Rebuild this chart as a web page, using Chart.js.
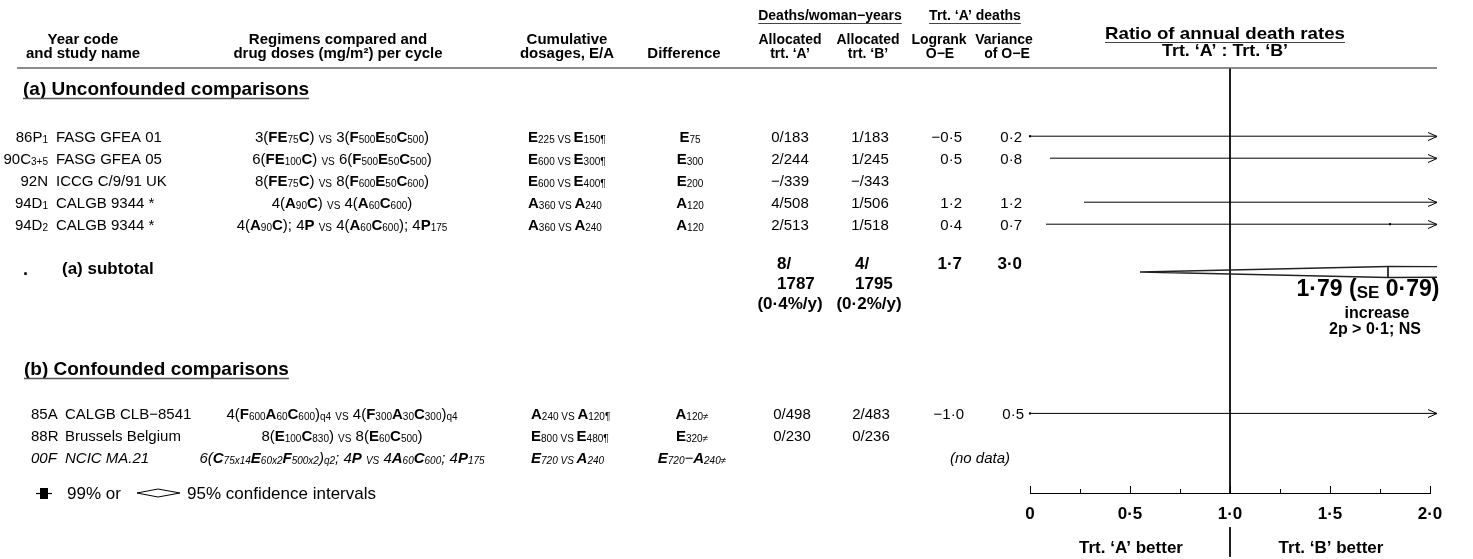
<!DOCTYPE html>
<html><head><meta charset="utf-8">
<script src="https://cdn.jsdelivr.net/npm/chart.js@4.4.1/dist/chart.umd.min.js"></script>
<style>html,body{margin:0;padding:0;background:#fff;overflow:hidden}#wrap{width:1473px;height:559px;position:relative}</style>
</head><body><div id="wrap"><canvas id="c" width="1473" height="559"></canvas></div>
<script>
// ---------------- DATA ----------------
// markup: `...` = bold, ^...^ = small/subscript
// (a) Unconfounded comparisons
const yearCodesA = ['86P^1^', '90C^3+5^', '92N', '94D^1^', '94D^2^'];
const studyNamesA = ['FASG GFEA 01', 'FASG GFEA 05', 'ICCG C/9/91 UK', 'CALGB 9344 *', 'CALGB 9344 *'];
const regimensA = [
  '3(`FE`^75^`C`) ^VS^ 3(`F`^500^`E`^50^`C`^500^)',
  '6(`FE`^100^`C`) ^VS^ 6(`F`^500^`E`^50^`C`^500^)',
  '8(`FE`^75^`C`) ^VS^ 8(`F`^600^`E`^50^`C`^600^)',
  '4(`A`^90^`C`) ^VS^ 4(`A`^60^`C`^600^)',
  '4(`A`^90^`C`); 4`P` ^VS^ 4(`A`^60^`C`^600^); 4`P`^175^'
];
const cumulativeA = ['`E`^225 VS ^`E`^150¶^', '`E`^600 VS ^`E`^300¶^', '`E`^600 VS ^`E`^400¶^', '`A`^360 VS ^`A`^240^', '`A`^360 VS ^`A`^240^'];
const differenceA = ['`E`^75^', '`E`^300^', '`E`^200^', '`A`^120^', '`A`^120^'];
const deathsA_A = ['0/183', '2/244', '−/339', '4/508', '2/513'];
const deathsA_B = ['1/183', '1/245', '−/343', '1/506', '1/518'];
const logrankA = ['−0·5', '0·5', '', '1·2', '0·4'];
const varianceA = ['0·2', '0·8', '', '1·2', '0·7'];
const ciLowA = [0.0, 0.1, null, 0.27, 0.08];      // lower 99% limits (upper limits all off scale > 2)
const pointA = [0.0, null, null, null, 1.8];      // visible point estimates

// (a) subtotal
const subDeathsA = ['8/', '1787', '(0·4%/y)'];
const subDeathsB = ['4/', '1795', '(0·2%/y)'];
const subLogrank = '1·7';
const subVariance = '3·0';
const subEstimate = 1.79;
const subDiamondLow = 0.55;
const subResultText = ['1·79 (^SE^ 0·79)', 'increase', '2p > 0·1; NS'];

// (b) Confounded comparisons
const yearCodesB = ['85A', '88R', '00F'];
const studyNamesB = ['CALGB CLB−8541', 'Brussels Belgium', 'NCIC MA.21'];
const regimensB = [
  '4(`F`^600^`A`^60^`C`^600^)^q4^ ^VS^ 4(`F`^300^`A`^30^`C`^300^)^q4^',
  '8(`E`^100^`C`^830^) ^VS^ 8(`E`^60^`C`^500^)',
  '6(`C`^75x14^`E`^60x2^`F`^500x2^)^q2^; 4`P` ^VS^ 4`A`^60^`C`^600^; 4`P`^175^'
];
const cumulativeB = ['`A`^240 VS ^`A`^120¶^', '`E`^800 VS ^`E`^480¶^', '`E`^720 VS ^`A`^240^'];
const differenceB = ['`A`^120≠^', '`E`^320≠^', '`E`^720^−`A`^240≠^'];
const deathsB_A = ['0/498', '0/230', ''];
const deathsB_B = ['2/483', '0/236', ''];
const logrankB = ['−1·0', '', ''];
const varianceB = ['0·5', '', ''];
const italicB = [false, false, true];
const ciLowB = [0.0, null, null];
const pointB = [0.0, null, null];

const xTickValues = [0, 0.5, 1, 1.5, 2];
const xTickLabels = ['0', '0·5', '1·0', '1·5', '2·0'];

// ---------------- LAYOUT ----------------
const FF = '"Liberation Sans", Arial, Helvetica, sans-serif';
const TOP = 68, BOTTOM = 493, ROW = 22;
const Y_MAX = (BOTTOM - TOP) / ROW;
const A_START = 3.1, SUB_SLOT = 9.27, B_START = 15.7;
const ARROW_END = 2.035;
const slotsA = yearCodesA.map((_, i) => A_START + i);
const slotsB = yearCodesB.map((_, i) => B_START + i);

function font(size, bold, italic) { return (italic ? 'italic ' : '') + (bold ? 'bold ' : '') + size + 'px ' + FF; }
function parseRich(str) {
  const segs = []; let b = false, s = false, cur = '';
  for (const ch of str) {
    if (ch === '`' || ch === '^') { if (cur) segs.push({ t: cur, b, s }); cur = ''; if (ch === '`') b = !b; else s = !s; }
    else cur += ch;
  }
  if (cur) segs.push({ t: cur, b, s });
  return segs;
}
function drawRich(c, str, x, y, o) {
  o = Object.assign({ size: 15, align: 'left', bold: false, italic: false, small: 0.64, sx: 1 }, o || {});
  const segs = parseRich(str);
  let w = 0;
  for (const sg of segs) {
    sg.sz = sg.s ? Math.round(o.size * o.small) : o.size;
    c.font = font(sg.sz, o.bold || sg.b, o.italic);
    sg.w = c.measureText(sg.t).width; w += sg.w;
  }
  const W = w * o.sx;
  const x0 = o.align === 'center' ? x - W / 2 : o.align === 'right' ? x - W : x;
  const base = y + o.size * 0.36;
  c.save();
  c.translate(x0, 0); c.scale(o.sx, 1);
  c.textBaseline = 'alphabetic'; c.textAlign = 'left'; c.fillStyle = '#000';
  let sx = 0;
  for (const sg of segs) {
    c.font = font(sg.sz, o.bold || sg.b, o.italic);
    c.fillText(sg.t, sx, base + (sg.s ? o.size * 0.06 : 0));
    sx += sg.w;
  }
  c.restore();
  return { x0, w: W };
}
function hline(c, x1, x2, y, col, lw) { c.beginPath(); c.strokeStyle = col; c.lineWidth = lw; c.moveTo(x1, y); c.lineTo(x2, y); c.stroke(); }

// ---------------- DATASETS ----------------
const datasets = [];
const arrowRows = [];
function addCI(lo, slot) {
  datasets.push({ type: 'line', data: [{ x: lo, y: slot }, { x: ARROW_END, y: slot }], borderColor: '#000', borderWidth: 1, pointRadius: 0, clip: false, tension: 0 });
  arrowRows.push(slot);
}
ciLowA.forEach((lo, i) => { if (lo !== null) addCI(lo, slotsA[i]); });
ciLowB.forEach((lo, i) => { if (lo !== null) addCI(lo, slotsB[i]); });
const pts = [];
pointA.forEach((p, i) => { if (p !== null) pts.push({ x: p, y: slotsA[i] }); });
pointB.forEach((p, i) => { if (p !== null) pts.push({ x: p, y: slotsB[i] }); });
datasets.push({ type: 'scatter', data: pts, pointStyle: 'rect', pointRadius: 1.5, backgroundColor: '#000', borderColor: '#000', borderWidth: 0, clip: false });
// subtotal 95% CI wedge (open at right where it leaves the scale)
const H = 0.25, HR = 0.24;
datasets.push({ type: 'line', data: [
  { x: ARROW_END, y: SUB_SLOT - HR }, { x: subEstimate, y: SUB_SLOT - H }, { x: subDiamondLow, y: SUB_SLOT },
  { x: subEstimate, y: SUB_SLOT + H }, { x: ARROW_END, y: SUB_SLOT + HR }],
  borderColor: '#222', borderWidth: 1.4, pointRadius: 0, clip: false, tension: 0, fill: false });
datasets.push({ type: 'line', data: [{ x: subEstimate, y: SUB_SLOT - H }, { x: subEstimate, y: SUB_SLOT + H }], borderColor: '#222', borderWidth: 1, pointRadius: 0, clip: false });
// line of no effect
datasets.push({ type: 'line', data: [{ x: 1, y: 0 }, { x: 1, y: Y_MAX }], borderColor: '#000', borderWidth: 1, pointRadius: 0, clip: false });
datasets.push({ type: 'line', data: [{ x: 1, y: Y_MAX + 1.55 }, { x: 1, y: Y_MAX + 2.9 }], borderColor: '#000', borderWidth: 1, pointRadius: 0, clip: false });

// ---------------- TEXT PLUGIN ----------------
const tablePlugin = {
  id: 'table',
  afterDraw(chart) {
    const c = chart.ctx, xs = chart.scales.x, ys = chart.scales.y;
    const py = s => ys.getPixelForValue(s);
    c.save();
    // axis ticks pointing up
    c.strokeStyle = '#000'; c.lineWidth = 1;
    for (let v = 0; v <= 2.0001; v += 0.25) {
      const px = Math.round(xs.getPixelForValue(v)) + 0.5;
      const major = Math.abs(v * 2 - Math.round(v * 2)) < 1e-6;
      c.beginPath(); c.moveTo(px, BOTTOM); c.lineTo(px, BOTTOM - (major ? 7 : 4)); c.stroke();
    }
    // arrowheads
    arrowRows.forEach(s => {
      const x = xs.getPixelForValue(ARROW_END), y = Math.round(py(s)) + 0.5;
      c.beginPath(); c.strokeStyle = '#000'; c.lineWidth = 1;
      c.moveTo(x - 9, y - 4); c.lineTo(x, y); c.lineTo(x - 9, y + 4); c.stroke();
    });
    // headers
    const HB = { size: 15, bold: true, align: 'center' };
    let r = drawRich(c, 'Deaths/woman−years', 830, 15, { size: 14, bold: true, align: 'center' }); hline(c, r.x0, r.x0 + r.w, 23.5, '#444', 1.2);
    r = drawRich(c, 'Trt. ‘A’ deaths', 975, 15, { size: 14, bold: true, align: 'center' }); hline(c, r.x0, r.x0 + r.w, 23.5, '#444', 1.2);
    drawRich(c, 'Year code', 83, 39, HB); drawRich(c, 'and study name', 83, 53, HB);
    drawRich(c, 'Regimens compared and', 338, 39, HB); drawRich(c, 'drug doses (mg/m²) per cycle', 338, 53, HB);
    drawRich(c, 'Cumulative', 567, 39, HB); drawRich(c, 'dosages, E/A', 567, 53, HB);
    drawRich(c, 'Difference', 684, 53, HB);
    const HS = { size: 14, bold: true, align: 'center' };
    drawRich(c, 'Allocated', 790, 39, HS); drawRich(c, 'trt. ‘A’', 790, 53, HS);
    drawRich(c, 'Allocated', 868, 39, HS); drawRich(c, 'trt. ‘B’', 868, 53, HS);
    drawRich(c, 'Logrank', 939, 39, HS); drawRich(c, 'O−E', 940, 53, HS);
    drawRich(c, 'Variance', 1004, 39, HS); drawRich(c, 'of O−E', 1007, 53, HS);
    r = drawRich(c, 'Ratio of annual death rates', 1225, 33, { size: 17, bold: true, align: 'center', sx: 1.1 });
    hline(c, r.x0, r.x0 + r.w, 42.5, '#444', 1.2);
    drawRich(c, 'Trt. ‘A’ : Trt. ‘B’', 1225, 50, { size: 17, bold: true, align: 'center', sx: 1.05 });
    hline(c, 17, 1437, TOP, '#666', 1.6);

    // section (a)
    r = drawRich(c, '(a) Unconfounded comparisons', 23, 88, { size: 19, bold: true });
    hline(c, r.x0, r.x0 + r.w, 98.5, '#555', 1.4);
    const RS = 15;
    slotsA.forEach((s, i) => {
      const y = py(s);
      drawRich(c, yearCodesA[i], 48, y, { size: RS, align: 'right' });
      drawRich(c, studyNamesA[i], 56, y, { size: RS });
      drawRich(c, regimensA[i], 342, y, { size: RS, align: 'center' });
      drawRich(c, cumulativeA[i], 528, y, { size: RS });
      drawRich(c, differenceA[i], 690, y, { size: RS, align: 'center' });
      drawRich(c, deathsA_A[i], 790, y, { size: RS, align: 'center' });
      drawRich(c, deathsA_B[i], 870, y, { size: RS, align: 'center' });
      drawRich(c, logrankA[i], 962, y, { size: RS, align: 'right' });
      drawRich(c, varianceA[i], 1022, y, { size: RS, align: 'right' });
    });
    // subtotal
    const sy = py(SUB_SLOT);
    const SB = { size: 17, bold: true };
    drawRich(c, '.', 23, sy - 3, { size: 18, bold: true });
    drawRich(c, '(a) subtotal', 62, sy - 4, SB);
    drawRich(c, subDeathsA[0], 777, sy - 9, SB);
    drawRich(c, subDeathsA[1], 777, sy + 11, SB);
    drawRich(c, subDeathsA[2], 790, sy + 31, Object.assign({ align: 'center' }, SB));
    drawRich(c, subDeathsB[0], 855, sy - 9, SB);
    drawRich(c, subDeathsB[1], 855, sy + 11, SB);
    drawRich(c, subDeathsB[2], 869, sy + 31, Object.assign({ align: 'center' }, SB));
    drawRich(c, subLogrank, 962, sy - 9, Object.assign({ align: 'right' }, SB));
    drawRich(c, subVariance, 1022, sy - 9, Object.assign({ align: 'right' }, SB));
    drawRich(c, subResultText[0], 1368, sy + 16, { size: 23, bold: true, align: 'center', small: 0.72 });
    drawRich(c, subResultText[1], 1377, sy + 40, { size: 16, bold: true, align: 'center' });
    drawRich(c, subResultText[2], 1375, sy + 56, { size: 16, bold: true, align: 'center' });

    // section (b)
    r = drawRich(c, '(b) Confounded comparisons', 24, 368, { size: 19, bold: true });
    hline(c, r.x0, r.x0 + r.w, 378.5, '#555', 1.4);
    slotsB.forEach((s, i) => {
      const y = py(s), it = italicB[i];
      drawRich(c, yearCodesB[i], 31, y, { size: RS, italic: it });
      drawRich(c, studyNamesB[i], 65, y, { size: RS, italic: it });
      drawRich(c, regimensB[i], 342, y, { size: RS, align: 'center', italic: it });
      drawRich(c, cumulativeB[i], 531, y, { size: RS, italic: it });
      drawRich(c, differenceB[i], 692, y, { size: RS, align: 'center', italic: it });
      drawRich(c, deathsB_A[i], 792, y, { size: RS, align: 'center' });
      drawRich(c, deathsB_B[i], 871, y, { size: RS, align: 'center' });
      drawRich(c, logrankB[i], 964, y, { size: RS, align: 'right' });
      drawRich(c, varianceB[i], 1024, y, { size: RS, align: 'right' });
    });
    drawRich(c, '(no data)', 980, py(slotsB[2]), { size: RS, italic: true, align: 'center' });

    // legend
    const ly = BOTTOM;
    hline(c, 36, 52, ly + 0.5, '#000', 1.2);
    c.fillStyle = '#000'; c.fillRect(40, ly - 5, 8, 11);
    drawRich(c, '99% or', 67, ly, { size: 17 });
    c.beginPath(); c.strokeStyle = '#000'; c.lineWidth = 1;
    c.moveTo(137, ly); c.lineTo(158, ly - 4); c.lineTo(180, ly); c.lineTo(158, ly + 4); c.closePath(); c.stroke();
    drawRich(c, '95% confidence intervals', 187, ly, { size: 17 });

    // bottom labels
    drawRich(c, 'Trt. ‘A’ better', 1131, 547, { size: 17, bold: true, align: 'center' });
    drawRich(c, 'Trt. ‘B’ better', 1331, 547, { size: 17, bold: true, align: 'center' });
    c.restore();
  }
};

Chart.defaults.font.family = FF;
new Chart(document.getElementById('c'), {
  type: 'line',
  data: { datasets },
  options: {
    responsive: false, animation: false, events: [],
    layout: { padding: { top: TOP, left: 1030, right: 43, bottom: 0 } },
    plugins: { legend: { display: false }, tooltip: { enabled: false } },
    scales: {
      x: {
        type: 'linear', position: 'bottom', min: 0, max: 2,
        afterFit(scale) { scale.height = 559 - BOTTOM; },
        afterBuildTicks(scale) { scale.ticks = xTickValues.map(v => ({ value: v })); },
        ticks: { color: '#000', font: { size: 17, weight: 'bold', family: FF }, padding: 11, maxRotation: 0, autoSkip: false,
          callback: (v) => { const i = xTickValues.indexOf(v); return i >= 0 ? xTickLabels[i] : ''; } },
        grid: { display: true, drawOnChartArea: false, drawTicks: false },
        border: { display: true, color: '#000', width: 1 }
      },
      y: { type: 'linear', reverse: true, min: 0, max: Y_MAX, display: false }
    }
  },
  plugins: [tablePlugin]
});
</script>
</body></html>
